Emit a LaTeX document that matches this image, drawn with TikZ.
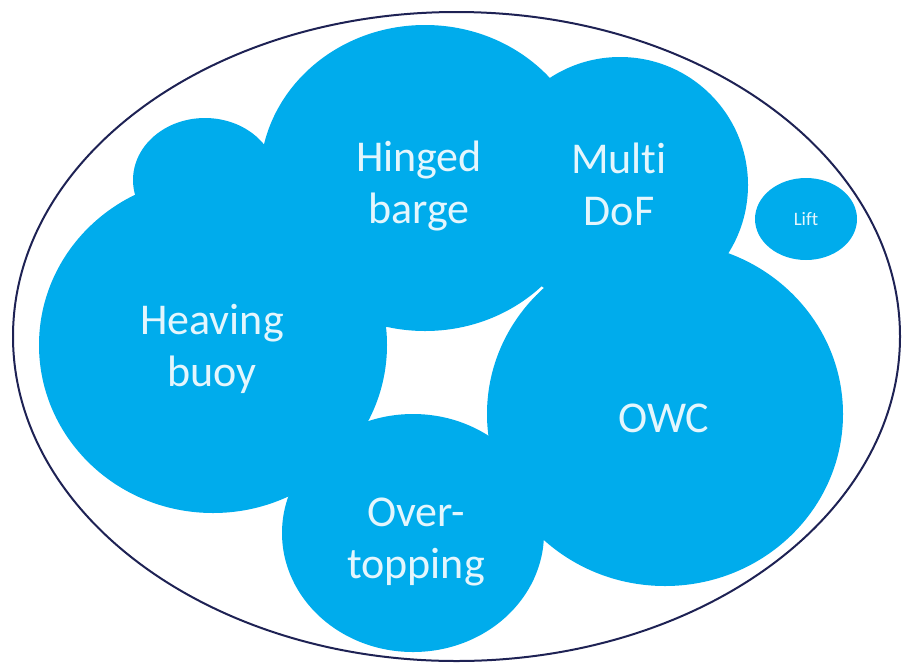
\documentclass[tikz,border=0pt]{standalone}
\usepackage{fontspec}
\setmainfont{Carlito}[Ligatures={NoCommon},RawFeature={-calt;-liga;-clig}]
\usetikzlibrary{shapes.geometric}
\definecolor{bub}{RGB}{0,172,236}
\definecolor{ring}{RGB}{30,34,84}
\definecolor{txt}{RGB}{228,246,253}
\begin{document}
\begin{tikzpicture}[x=1pt,y=-1pt,
  bubble/.style={ellipse, fill=bub, draw=none, inner sep=0pt},
  lbl/.style={text=txt, align=center, inner sep=0pt, font=\fontsize{44}{52}\selectfont},
  small/.style={text=txt, inner sep=0pt, font=\fontsize{19}{22}\selectfont}]
\useasboundingbox (0,0) rectangle (904,665);
\node[draw=ring, line width=2pt, ellipse, inner sep=0pt, minimum width=887pt, minimum height=649pt] (outer) at (456.5,336.5) {};
% bubbles
\node[bubble, minimum width=144pt, minimum height=124pt] (bump) at (205,180) {};
\node[bubble, minimum width=348pt, minimum height=336pt] (heave) at (213,345) {};
\node[bubble, minimum width=330pt, minimum height=306pt] (hinge) at (425,178) {};
\node[bubble, minimum width=256pt, minimum height=256pt] (multi) at (620,185) {};
\node[bubble, minimum width=356pt, minimum height=344pt] (owc) at (665,414) {};
\node[bubble, minimum width=262pt, minimum height=238pt] (over) at (413,533) {};
\node[bubble, minimum width=102pt, minimum height=82pt] (lift) at (806,219) {};
% labels
\node[lbl] (thinge) at (419,186) {Hinged\\barge};
\node[lbl] (tmulti) at (619,184) {Mult\kern0pt i\\DoF};
\node[lbl] (theave) at (212,349) {Heaving\\buoy};
\node[lbl] (towc) at (664,418) {OWC};
\node[lbl] (tover) at (416,542) {Over-\\topping};
\node[small] (tlift) at (806,219) {Li\kern0pt f\kern0pt t};
\end{tikzpicture}
\end{document}
